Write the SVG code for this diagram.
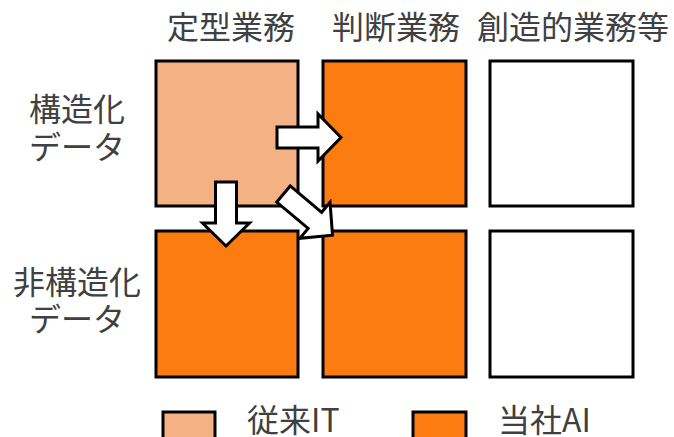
<svg xmlns="http://www.w3.org/2000/svg" width="674" height="437" viewBox="0 0 674 437">
<defs>
<style>
.t{font-family:"Noto Sans CJK JP","Noto Sans",sans-serif;font-size:32px;fill:#404040;text-anchor:middle}
.tl{font-family:"Noto Sans CJK JP","Noto Sans",sans-serif;font-size:32px;fill:#404040}
.b{stroke:#000;stroke-width:3}
.it{fill:#F4B183}
.ai{fill:#FD7C12}
.em{fill:#fff}
.ar{fill:#fff;stroke:#000;stroke-width:3;stroke-linejoin:miter}
</style>
<path id="arrow" d="M0,-10.5 L41,-10.5 L41,-23.5 L64,0 L41,23.5 L41,10.5 L0,10.5 Z"/>
</defs>
<rect width="674" height="437" fill="#fff"/>
<g id="headers">
<text class="t" x="231" y="39">定型業務</text>
<text class="t" x="396" y="39">判断業務</text>
<text class="t" x="573" y="39">創造的業務等</text>
</g>
<g id="rowlabels">
<text class="t"><tspan x="77" y="121">構造化</tspan><tspan x="77" y="159">データ</tspan></text>
<text class="t"><tspan x="77" y="294">非構造化</tspan><tspan x="77" y="331">データ</tspan></text>
</g>
<g id="cell-11"><rect class="b it" x="156" y="61" width="142" height="145"/></g>
<g id="cell-12"><rect class="b ai" x="323" y="61" width="143" height="145"/></g>
<g id="cell-13"><rect class="b em" x="490" y="61" width="143" height="145"/></g>
<g id="cell-21"><rect class="b ai" x="156" y="231" width="142" height="146"/></g>
<g id="cell-22"><rect class="b ai" x="323" y="231" width="143" height="146"/></g>
<g id="cell-23"><rect class="b em" x="490" y="231" width="143" height="146"/></g>
<g id="connectors">
<use href="#arrow" class="ar" transform="translate(277,137.5)"/>
<use href="#arrow" class="ar" transform="translate(226,182) rotate(90)"/>
<use href="#arrow" class="ar" transform="translate(283.5,194) rotate(40)"/>
</g>
<g id="legend-it">
<rect class="b it" x="163" y="412" width="52" height="30"/>
<text class="tl" x="247" y="432">従来IT</text>
</g>
<g id="legend-ai">
<rect class="b ai" x="413" y="412" width="53" height="30"/>
<text class="tl" x="498" y="432">当社AI</text>
</g>
</svg>
